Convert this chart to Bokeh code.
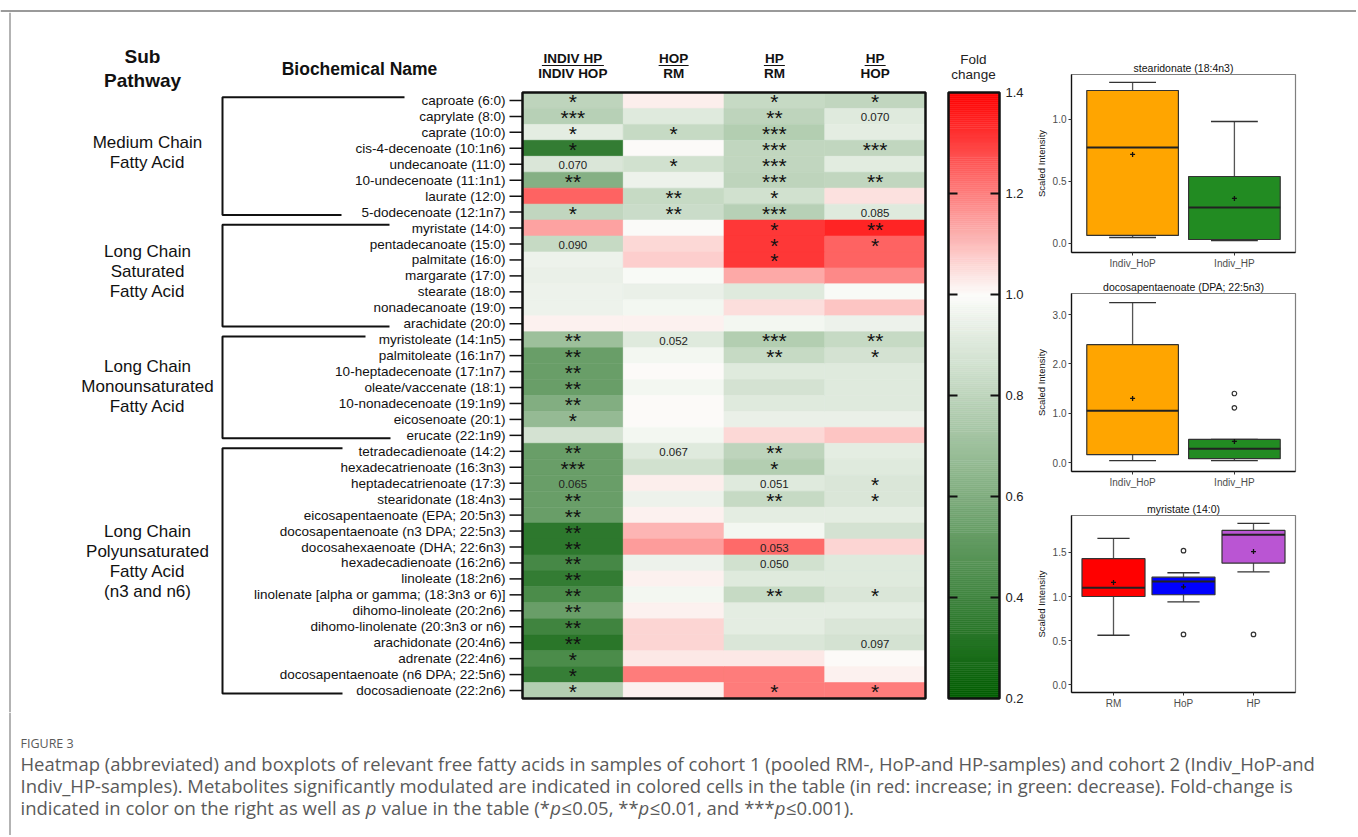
import numpy as np
from bokeh.plotting import figure
from bokeh.layouts import column, row
from bokeh.models import Range1d, ColumnDataSource, LinearColorMapper, FixedTicker, NumeralTickFormatter, Spacer
from bokeh.transform import transform
from bokeh.core.properties import value
from bokeh.embed import file_html
from bokeh.resources import INLINE

# ---------------------------------------------------------------- data
names = [
    "caproate (6:0)", "caprylate (8:0)", "caprate (10:0)", "cis-4-decenoate (10:1n6)",
    "undecanoate (11:0)", "10-undecenoate (11:1n1)", "laurate (12:0)", "5-dodecenoate (12:1n7)",
    "myristate (14:0)", "pentadecanoate (15:0)", "palmitate (16:0)", "margarate (17:0)",
    "stearate (18:0)", "nonadecanoate (19:0)", "arachidate (20:0)",
    "myristoleate (14:1n5)", "palmitoleate (16:1n7)", "10-heptadecenoate (17:1n7)",
    "oleate/vaccenate (18:1)", "10-nonadecenoate (19:1n9)", "eicosenoate (20:1)", "erucate (22:1n9)",
    "tetradecadienoate (14:2)", "hexadecatrienoate (16:3n3)", "heptadecatrienoate (17:3)",
    "stearidonate (18:4n3)", "eicosapentaenoate (EPA; 20:5n3)", "docosapentaenoate (n3 DPA; 22:5n3)",
    "docosahexaenoate (DHA; 22:6n3)", "hexadecadienoate (16:2n6)", "linoleate (18:2n6)",
    "linolenate [alpha or gamma; (18:3n3 or 6)]", "dihomo-linoleate (20:2n6)",
    "dihomo-linolenate (20:3n3 or n6)", "arachidonate (20:4n6)", "adrenate (22:4n6)",
    "docosapentaenoate (n6 DPA; 22:5n6)", "docosadienoate (22:2n6)",
]
group_labels = [["Medium Chain", "Fatty Acid"],
                ["Long Chain", "Saturated", "Fatty Acid"],
                ["Long Chain", "Monounsaturated", "Fatty Acid"],
                ["Long Chain", "Polyunsaturated", "Fatty Acid", "(n3 and n6)"]]
group_first = [0, 8, 15, 22]
group_last = [7, 14, 21, 37]

comp_top = ["INDIV HP", "HOP", "HP", "HP"]
comp_bottom = ["INDIV HOP", "RM", "RM", "HOP"]

fc_indiv_hp_hop = [0.80, 0.78, 0.92, 0.36, 0.89, 0.62, 1.24, 0.81,
                   1.14, 0.83, 0.95, 0.94, 0.95, 0.95, 1.016,
                   0.70, 0.53, 0.53, 0.53, 0.61, 0.67, 0.87,
                   0.53, 0.53, 0.53, 0.53, 0.53, 0.34, 0.34, 0.42, 0.36, 0.435,
                   0.53, 0.40, 0.33, 0.435, 0.37, 0.765]
fc_hop_rm = [1.024, 0.905, 0.83, 1.0, 0.86, 0.95, 0.83, 0.84,
             0.99, 1.055, 1.07, 0.985, 0.94, 0.97, 1.016,
             0.905, 0.97, 1.0, 0.97, 1.0, 1.0, 0.97,
             0.905, 0.86, 1.024, 0.95, 1.016, 1.11, 1.15, 0.95, 1.016, 0.97,
             1.016, 1.063, 1.063, 1.03, 1.20, 1.016]
fc_hp_rm = [0.83, 0.80, 0.765, 0.81, 0.81, 0.80, 0.86, 0.78,
            1.31, 1.31, 1.31, 1.13, 0.905, 1.047, 0.97,
            0.765, 0.83, 0.905, 0.87, 0.905, 0.94, 1.055,
            0.80, 0.765, 0.905, 0.83, 0.92, 0.97, 1.23, 0.86, 0.905, 0.83,
            0.92, 0.92, 0.89, 1.03, 1.20, 1.20]
fc_hp_hop = [0.81, 0.905, 0.92, 0.81, 0.915, 0.81, 1.04, 0.905,
             1.34, 1.24, 1.24, 1.18, 0.985, 1.086, 0.95,
             0.83, 0.87, 0.905, 0.905, 0.905, 0.94, 1.086,
             0.92, 0.905, 0.89, 0.89, 0.92, 0.87, 1.063, 0.905, 0.905, 0.89,
             0.92, 0.89, 0.87, 1.0, 1.016, 1.20]

sig_indiv_hp_hop = ["*", "***", "*", "*", "0.070", "**", "", "*",
                    "", "0.090", "", "", "", "", "",
                    "**", "**", "**", "**", "**", "*", "",
                    "**", "***", "0.065", "**", "**", "**", "**", "**", "**", "**",
                    "**", "**", "**", "*", "*", "*"]
sig_hop_rm = ["", "", "*", "", "*", "", "**", "**",
              "", "", "", "", "", "", "",
              "0.052", "", "", "", "", "", "",
              "0.067", "", "", "", "", "", "", "", "", "",
              "", "", "", "", "", ""]
sig_hp_rm = ["*", "**", "***", "***", "***", "***", "*", "***",
             "*", "*", "*", "", "", "", "",
             "***", "**", "", "", "", "", "",
             "**", "*", "0.051", "**", "", "", "0.053", "0.050", "", "**",
             "", "", "", "", "", "*"]
sig_hp_hop = ["*", "0.070", "", "***", "", "**", "", "0.085",
              "**", "*", "", "", "", "", "",
              "**", "*", "", "", "", "", "",
              "", "", "*", "*", "", "", "", "", "", "*",
              "", "", "0.097", "", "", "*"]

colorbar_ticks = [0.2, 0.4, 0.6, 0.8, 1.0, 1.2, 1.4]

# boxplot 1
bp1_title = "stearidonate (18:4n3)"
bp1_groups = ["Indiv_HoP", "Indiv_HP"]
bp1_colors = ["#FFA500", "#228B22"]
bp1_lower = [0.048, 0.024]
bp1_q1 = [0.065, 0.032]
bp1_median = [0.774, 0.29]
bp1_q3 = [1.234, 0.54]
bp1_upper = [1.30, 0.984]
bp1_mean = [0.718, 0.363]
bp1_out_group = []
bp1_out_value = []
bp1_yticks = [0.0, 0.5, 1.0]

# boxplot 2
bp2_title = "docosapentaenoate (DPA; 22:5n3)"
bp2_groups = ["Indiv_HoP", "Indiv_HP"]
bp2_colors = ["#FFA500", "#228B22"]
bp2_lower = [0.04, 0.04]
bp2_q1 = [0.16, 0.08]
bp2_median = [1.05, 0.28]
bp2_q3 = [2.39, 0.47]
bp2_upper = [3.24, 0.47]
bp2_mean = [1.30, 0.43]
bp2_out_group = [2, 2]
bp2_out_value = [1.11, 1.40]
bp2_yticks = [0.0, 1.0, 2.0, 3.0]

# boxplot 3
bp3_title = "myristate (14:0)"
bp3_groups = ["RM", "HoP", "HP"]
bp3_colors = ["#FF0000", "#0000FF", "#BA55D3"]
bp3_lower = [0.56, 0.94, 1.28]
bp3_q1 = [1.00, 1.02, 1.38]
bp3_median = [1.10, 1.17, 1.70]
bp3_q3 = [1.43, 1.22, 1.75]
bp3_upper = [1.66, 1.27, 1.83]
bp3_mean = [1.16, 1.11, 1.51]
bp3_out_group = [2, 2, 3]
bp3_out_value = [1.52, 0.57, 0.57]
bp3_yticks = [0.0, 0.5, 1.0, 1.5]

caption_title = "FIGURE 3"
caption_1 = ("Heatmap (abbreviated) and boxplots of relevant free fatty acids in samples of cohort 1 "
             "(pooled RM-, HoP-and HP-samples) and cohort 2 (Indiv_HoP-and")
caption_2 = ("Indiv_HP-samples). Metabolites significantly modulated are indicated in colored cells in "
             "the table (in red: increase; in green: decrease). Fold-change is")
caption_3 = [("indicated in color on the right as well as ", False), ("p", True),
             (" value in the table (*", False), ("p", True), ("\u22640.05, **", False), ("p", True),
             ("\u22640.01, and ***", False), ("p", True), ("\u22640.001).", False)]

# ---------------------------------------------------------------- styles
FONT_NAME = "Liberation Sans"
FONT = value(FONT_NAME)
CAPFONT = value("Open Sans")
BORDER_GRAY = "#9a9a9a"
PAGE_W, PAGE_H = 1356, 835


def fc_color(v):
    lo, mid, hi = (0, 92, 0), (252, 252, 250), (255, 0, 0)
    if v <= 1.0:
        t = (v - 0.2) / 0.8
        c = [lo[k] + (mid[k] - lo[k]) * t for k in range(3)]
    else:
        t = (v - 1.0) / 0.4
        c = [mid[k] + (hi[k] - mid[k]) * t for k in range(3)]
    return "#%02x%02x%02x" % tuple(int(round(max(0, min(255, x)))) for x in c)


NPAL = 240
PALETTE = [fc_color(0.2 + 1.2 * (i + 0.5) / NPAL) for i in range(NPAL)]
mapper = LinearColorMapper(palette=PALETTE, low=0.2, high=1.4)


def blank(fig):
    fig.grid.visible = False
    fig.outline_line_color = None
    return fig


# ---------------------------------------------------------------- top rule
TOP_H = 12
TOPF = blank(figure(width=PAGE_W, height=TOP_H, x_range=Range1d(0, PAGE_W), y_range=Range1d(TOP_H, 0),
                    output_backend="svg", toolbar_location=None, min_border=0,
                    x_axis_location=None, y_axis_location=None))
TOPF.segment(x0=[0], x1=[PAGE_W], y0=[10.5], y1=[10.5], line_color=BORDER_GRAY, line_width=2)
TOPF.segment(x0=[9.5], x1=[9.5], y0=[10], y1=[TOP_H], line_color=BORDER_GRAY, line_width=1.5)

# ---------------------------------------------------------------- heatmap panel
COLW = (925 - 522) / 4.0
ROWH = (698 - 92) / 38.0
L_LEFT, L_RIGHT, L_TOP, L_BOT = 0, 1030, TOP_H, 712


def X(px):
    return (px - 522) / COLW


def Y(py):
    return (py - 92) / ROWH


L = blank(figure(width=L_RIGHT - L_LEFT, height=L_BOT - L_TOP, x_range=Range1d(X(L_LEFT), X(L_RIGHT)),
                 y_range=Range1d(Y(L_BOT), Y(L_TOP)), output_backend="svg",
                 toolbar_location=None, min_border=0, x_axis_location=None, y_axis_location=None))
L.segment(x0=[X(9.5)], x1=[X(9.5)], y0=[Y(L_TOP)], y1=[Y(L_BOT)], line_color=BORDER_GRAY, line_width=1.5)

cols_fc = [fc_indiv_hp_hop, fc_hop_rm, fc_hp_rm, fc_hp_hop]
cols_sig = [sig_indiv_hp_hop, sig_hop_rm, sig_hp_rm, sig_hp_hop]
hx, hy, hv, sx, sy, st, px_, py_, pt = [], [], [], [], [], [], [], [], []
for ci, (fcs, sigs) in enumerate(zip(cols_fc, cols_sig)):
    for ri, (v, s) in enumerate(zip(fcs, sigs)):
        hx.append(ci + 0.5)
        hy.append(ri + 0.5)
        hv.append(v)
        if s.startswith("*"):
            sx.append(ci + 0.5); sy.append(ri + 0.5); st.append(s)
        elif s:
            px_.append(ci + 0.5); py_.append(ri + 0.5); pt.append(s)

hsrc = ColumnDataSource(dict(x=hx, y=hy, fc=hv))
L.rect(x="x", y="y", width=1, height=1, source=hsrc, fill_color=transform("fc", mapper),
       line_color=transform("fc", mapper), line_width=0.6)
L.text(x=sx, y=sy, text=st, text_font=FONT, text_font_size="21px", text_align="center",
       text_baseline="alphabetic", y_offset=1, text_color="#111111")
L.text(x=px_, y=py_, text=pt, text_font=FONT, text_font_size="11.5px", text_align="center",
       text_baseline="middle", y_offset=1, text_color="#222222")
L.rect(x=[2], y=[19], width=4, height=38, fill_color=None, line_color="#111111", line_width=2.5)

rows_c = [i + 0.5 for i in range(len(names))]
L.segment(x0=[X(509)] * len(names), x1=[0] * len(names), y0=rows_c, y1=rows_c,
          line_color="#111111", line_width=1.5)
L.text(x=[X(505)] * len(names), y=rows_c, text=names, text_font=FONT, text_font_size="13.5px",
       text_align="right", text_baseline="middle", text_color="#111111")

bracket_x = X(222)
bracket_end_top = [404, 389, 365, 342]
bracket_end_bot = [341, 389, 390, 342]
bxs, bys = [], []
for f, l, et, eb in zip(group_first, group_last, bracket_end_top, bracket_end_bot):
    top, bot = f + 0.3, l + 0.68
    bxs.append([X(et), bracket_x, bracket_x, X(eb)])
    bys.append([top, top, bot, bot])
L.multi_line(xs=bxs, ys=bys, line_color="#111111", line_width=2)

block_centres = [152, 271, 386, 561]
gx, gy, gt = [], [], []
for lines, yc in zip(group_labels, block_centres):
    n = len(lines)
    for k, t in enumerate(lines):
        gx.append(X(147)); gy.append(Y(yc + (k - (n - 1) / 2) * 20)); gt.append(t)
L.text(x=gx, y=gy, text=gt, text_font=FONT, text_font_size="17px", text_align="center",
       text_baseline="middle", text_color="#111111")

L.text(x=[X(142), X(142)], y=[Y(56), Y(80)], text=["Sub", "Pathway"], text_font=FONT,
       text_font_size="19px", text_font_style="bold", text_align="center", text_baseline="middle",
       text_color="#111111")
L.text(x=[X(359)], y=[Y(68)], text=["Biochemical Name"], text_font=FONT, text_font_size="17.5px",
       text_font_style="bold", text_align="center", text_baseline="middle", text_color="#111111")
ccx = [i + 0.5 for i in range(4)]
L.text(x=ccx, y=[Y(58)] * 4, text=comp_top, text_font=FONT, text_font_size="13.5px",
       text_font_style="bold", text_align="center", text_baseline="middle", text_color="#111111")
L.text(x=ccx, y=[Y(73)] * 4, text=comp_bottom, text_font=FONT, text_font_size="13.5px",
       text_font_style="bold", text_align="center", text_baseline="middle", text_color="#111111")
ul_w = [62, 30, 21, 21]
L.segment(x0=[c - w / 2 / COLW for c, w in zip(ccx, ul_w)], x1=[c + w / 2 / COLW for c, w in zip(ccx, ul_w)],
          y0=[Y(65)] * 4, y1=[Y(65)] * 4, line_color="#111111", line_width=1.2)

# colour bar (fold change scale)
cb_pp = 1.2 / (698 - 92)
L.extra_y_ranges = {"cb": Range1d(0.2 - (L_BOT - 698) * cb_pp, 1.4 + (92 - L_TOP) * cb_pp)}
edges = np.linspace(0.2, 1.4, 301)
cbsrc = ColumnDataSource(dict(b=edges[:-1], t=edges[1:], m=(edges[:-1] + edges[1:]) / 2))
L.quad(left=X(948), right=X(999), bottom="b", top="t", source=cbsrc, y_range_name="cb",
       fill_color=transform("m", mapper), line_color=transform("m", mapper), line_width=0.5)
L.quad(left=[X(948)], right=[X(999)], bottom=[0.2], top=[1.4], y_range_name="cb",
       fill_color=None, line_color="#111111", line_width=2.5)
inner = colorbar_ticks[1:-1]
L.segment(x0=[X(948)] * len(inner), x1=[X(957)] * len(inner), y0=inner, y1=inner,
          y_range_name="cb", line_color="#111111", line_width=2)
L.segment(x0=[X(990)] * len(inner), x1=[X(999)] * len(inner), y0=inner, y1=inner,
          y_range_name="cb", line_color="#111111", line_width=2)
L.text(x=[X(1005)] * len(colorbar_ticks), y=colorbar_ticks, text=["%.1f" % t for t in colorbar_ticks],
       y_range_name="cb", text_font=FONT, text_font_size="13px", text_align="left",
       text_baseline="middle", text_color="#222222")
L.text(x=[X(973), X(973)], y=[Y(59), Y(74)], text=["Fold", "change"], text_font=FONT,
       text_font_size="13.5px", text_align="center", text_baseline="middle", text_color="#222222")

# ---------------------------------------------------------------- boxplots
R_W = PAGE_W - L_RIGHT
FR_LEFT, FR_W = 41, 224


def boxplot(title, groups, colors, lower, q1, med, q3, upper, mean, out_g, out_v, yticks,
            yr, height, mtop, mbot):
    n = len(groups)
    p = figure(width=R_W, height=height, x_range=Range1d(0.4, n + 0.6), y_range=Range1d(*yr),
               output_backend="svg", toolbar_location=None, title=title,
               min_border_left=FR_LEFT, min_border_right=R_W - FR_LEFT - FR_W,
               min_border_top=mtop, min_border_bottom=mbot)
    xs = list(range(1, n + 1))
    cap = 0.23
    src = ColumnDataSource(dict(x=xs, xl=[x - cap for x in xs], xr=[x + cap for x in xs],
                                ml=[x - 0.45 for x in xs], mr=[x + 0.45 for x in xs],
                                lower=lower, q1=q1, med=med, q3=q3, upper=upper, mean=mean,
                                color=colors))
    p.segment(x0="x", x1="x", y0="q3", y1="upper", source=src, line_color="#555555", line_width=1.3)
    p.segment(x0="x", x1="x", y0="q1", y1="lower", source=src, line_color="#555555", line_width=1.3)
    p.segment(x0="xl", x1="xr", y0="upper", y1="upper", source=src, line_color="#333333", line_width=1.3)
    p.segment(x0="xl", x1="xr", y0="lower", y1="lower", source=src, line_color="#333333", line_width=1.3)
    p.vbar(x="x", width=0.9, bottom="q1", top="q3", source=src, fill_color="color",
           line_color="#333333", line_width=1.2)
    p.segment(x0="ml", x1="mr", y0="med", y1="med", source=src, line_color="#222222", line_width=2)
    p.scatter(x="x", y="mean", source=src, marker="cross", size=5, line_color="#111111", line_width=1.3)
    if out_g:
        p.scatter(x=out_g, y=out_v, marker="circle", size=4.5, fill_color="white",
                  line_color="#333333", line_width=1.2)
    p.grid.visible = False
    p.outline_line_color = "#7f7f7f"
    p.outline_line_width = 1.2
    p.xaxis.ticker = FixedTicker(ticks=xs)
    p.xaxis.major_label_overrides = {x: g for x, g in zip(xs, groups)}
    p.yaxis.ticker = FixedTicker(ticks=yticks)
    p.yaxis.formatter = NumeralTickFormatter(format="0.0")
    p.yaxis.axis_label = "Scaled Intensity"
    for ax in (p.xaxis, p.yaxis):
        ax.axis_line_color = "#111111"
        ax.axis_line_width = 1.3
        ax.major_tick_out = 3
        ax.major_tick_in = 0
        ax.major_tick_line_color = "#333333"
        ax.minor_tick_line_color = None
        ax.major_label_text_font = FONT_NAME
        ax.major_label_text_font_size = "10px"
        ax.major_label_text_color = "#4d4d4d"
        ax.major_label_standoff = 2
    p.yaxis.axis_label_text_font = FONT_NAME
    p.yaxis.axis_label_text_font_size = "9.5px"
    p.yaxis.axis_label_text_font_style = "normal"
    p.yaxis.axis_label_text_color = "#111111"
    p.yaxis.axis_label_standoff = 3
    p.title.text_font = FONT_NAME
    p.title.text_font_size = "10.5px"
    p.title.text_font_style = "normal"
    p.title.text_color = "#111111"
    p.title.align = "center"
    p.title.standoff = 2
    return p


SP = Spacer(width=R_W, height=56 - L_TOP)
B1 = boxplot(bp1_title, bp1_groups, bp1_colors, bp1_lower, bp1_q1, bp1_median, bp1_q3, bp1_upper,
             bp1_mean, bp1_out_group, bp1_out_value, bp1_yticks, (-0.073, 1.363), 220, 18, 24)
B2 = boxplot(bp2_title, bp2_groups, bp2_colors, bp2_lower, bp2_q1, bp2_median, bp2_q3, bp2_upper,
             bp2_mean, bp2_out_group, bp2_out_value, bp2_yticks, (-0.18, 3.426), 221, 17, 26)
B3 = boxplot(bp3_title, bp3_groups, bp3_colors, bp3_lower, bp3_q1, bp3_median, bp3_q3, bp3_upper,
             bp3_mean, bp3_out_group, bp3_out_value, bp3_yticks, (-0.09, 1.92), 215, 18, 20)

# ---------------------------------------------------------------- caption
OS = {' ': 532, '!': 547, '(': 606, ')': 606, '*': 1130, ',': 502, '-': 659, '.': 545, ':': 545,
      ';': 545, '_': 879, '\u2264': 1171,
      'A': 1296, 'B': 1327, 'C': 1292, 'D': 1493, 'E': 1139, 'F': 1057, 'G': 1491, 'H': 1511,
      'I': 571, 'M': 1849, 'N': 1544, 'O': 1595, 'P': 1233, 'R': 1266, 'S': 1124, 'T': 1149,
      'a': 1139, 'b': 1255, 'c': 975, 'd': 1255, 'e': 1149, 'f': 694, 'g': 1122, 'h': 1257,
      'i': 518, 'j': 518, 'k': 1075, 'l': 518, 'm': 1905, 'n': 1257, 'o': 1237, 'p': 1255,
      'q': 1255, 'r': 836, 's': 977, 't': 723, 'u': 1257, 'v': 1051, 'w': 1593, 'x': 1075,
      'y': 1053, 'z': 977}


def tw(s, size):
    return sum(OS.get(c, 1171) for c in s) / 2048.0 * size


cap_size = 1297.0 / tw(caption_1, 1.0)
C_TOP, C_BOT = L_BOT, PAGE_H
C = blank(figure(width=PAGE_W, height=C_BOT - C_TOP, x_range=Range1d(0, PAGE_W), y_range=Range1d(C_BOT, C_TOP),
                 output_backend="svg", toolbar_location=None, min_border=0,
                 x_axis_location=None, y_axis_location=None))
C.segment(x0=[9.5], x1=[9.5], y0=[C_TOP], y1=[C_BOT], line_color=BORDER_GRAY, line_width=1.5)
C.text(x=[20], y=[743], text=[caption_title], text_font=CAPFONT, text_font_size="12.5px",
       text_baseline="middle", text_color="#5a5a5a")
C.text(x=[20, 20], y=[763, 785], text=[caption_1, caption_2], text_font=CAPFONT,
       text_font_size="%.2fpx" % cap_size, text_baseline="middle", text_color="#5a5a5a")
cur = 20.0
nx, nt, ix, it = [], [], [], []
for seg, ital in caption_3:
    lead = len(seg) - len(seg.lstrip(" "))
    xpos = cur + tw(" " * lead, cap_size)
    if ital:
        ix.append(xpos); it.append(seg.strip(" "))
    else:
        nx.append(xpos); nt.append(seg.strip(" "))
    cur += tw(seg, cap_size)
C.text(x=nx, y=[807] * len(nx), text=nt, text_font=CAPFONT, text_font_size="%.2fpx" % cap_size,
       text_baseline="middle", text_color="#5a5a5a")
C.text(x=ix, y=[807] * len(ix), text=it, text_font=CAPFONT, text_font_size="%.2fpx" % cap_size,
       text_font_style="italic", text_baseline="middle", text_color="#5a5a5a")

layout = column(TOPF, row(L, column(SP, B1, B2, B3)), C)
open("out.html", "w").write(file_html(layout, INLINE))
